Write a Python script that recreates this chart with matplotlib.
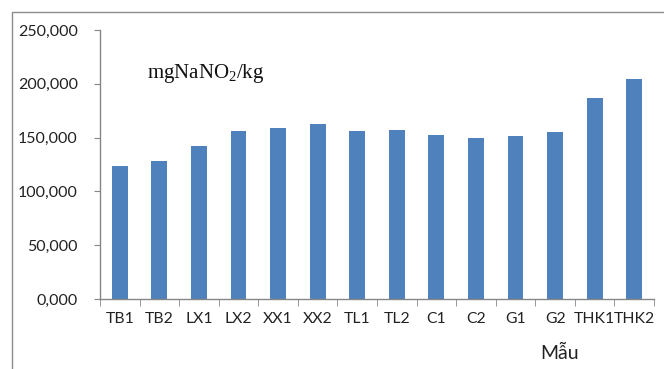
import numpy as np
import matplotlib
matplotlib.use("Agg")
import matplotlib.pyplot as plt
from matplotlib.patches import Rectangle
from matplotlib.ticker import FuncFormatter

# nitrite content per sample (mg NaNO2 / kg)
samples = ['TB1', 'TB2', 'LX1', 'LX2', 'XX1', 'XX2', 'TL1', 'TL2',
           'C1', 'C2', 'G1', 'G2', 'THK1', 'THK2']
nitrite = [123.4, 128.0, 142.6, 156.5, 159.0, 162.7, 156.5, 157.1,
           152.5, 149.7, 151.2, 155.0, 187.0, 204.0]
y_ticks = [0, 50, 100, 150, 200, 250]

plt.rcParams['font.family'] = ['Lato', 'DejaVu Sans']
plt.rcParams['mathtext.fontset'] = 'custom'
plt.rcParams['mathtext.rm'] = 'Liberation Serif'
plt.rcParams['mathtext.it'] = 'Liberation Serif:italic'

fig = plt.figure(figsize=(6.64, 3.69), dpi=100)
ax = fig.add_axes([0.1506, 0.1897, 0.8344, 0.729])

x = np.arange(len(samples))
ax.bar(x, nitrite, width=0.4, color='#4F81BD', zorder=2)

ax.set_xlim(-0.5, len(samples) - 0.5)
ax.set_ylim(0, 250)
ax.set_yticks(y_ticks)
ax.yaxis.set_major_formatter(FuncFormatter(lambda v, p: f'{v:.3f}'.replace('.', ',')))

# category labels centred, tick marks between categories
ax.set_xticks(x)
ax.set_xticklabels(samples)
ax.set_xticks(np.arange(len(samples) + 1) - 0.5, minor=True)
ax.tick_params(axis='x', which='major', length=0, pad=9, labelsize=11.3, colors='#222222')
ax.tick_params(axis='x', which='minor', length=5, color='#868686', direction='out')
ax.tick_params(axis='y', length=4, color='#868686', pad=12, labelsize=11.5, labelcolor='#222222')

for s in ['top', 'right']:
    ax.spines[s].set_visible(False)
for s in ['left', 'bottom']:
    ax.spines[s].set_color('#868686')
    ax.spines[s].set_linewidth(1.0)

ax.text(0.085, 0.84, r'mgNaNO$_\mathrm{2}$/kg', transform=ax.transAxes,
        fontsize=15, family='Liberation Serif', color='#111111',
        ha='left', va='center')

fig.text(560 / 664, 1 - 353 / 369, 'Mẫu', fontsize=14, color='#222222',
         ha='center', va='center')

# outer chart frame
fig.patches.append(Rectangle((11.5 / 664, -0.2), 1.2, 1.2 - 11.5 / 369,
                             transform=fig.transFigure, fill=False,
                             edgecolor='#8c8c8c', linewidth=1.0))

fig.savefig('out.png', dpi=100)
